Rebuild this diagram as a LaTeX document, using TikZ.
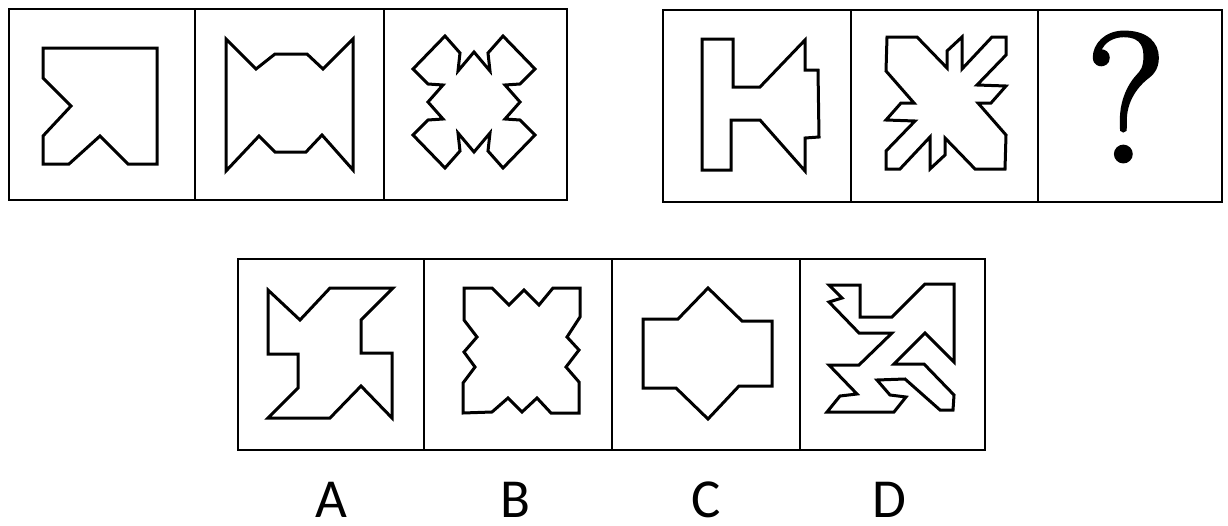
\documentclass[tikz,border=0pt]{standalone}
\usepackage{fontspec}
\newfontfamily\labfont{Carlito}
\newfontfamily\qfont[FakeBold=2]{Latin Modern Roman}

\begin{document}
\begin{tikzpicture}[x=1pt, y=-1pt,
    panel/.style={line width=2.6pt},
    fig/.style={line width=3pt, line join=miter},
    letter/.style={font=\labfont\fontsize{55}{55}\selectfont, anchor=base, inner sep=0pt}]
    \useasboundingbox (0,0) rectangle (1228,525);
    % Remeliai
    \draw[panel] (9,9) rectangle (567,200);
    \foreach \x in {195,384} \draw[panel] (\x,9) -- (\x,200);
    \draw[panel] (663,10) rectangle (1222,202);
    \foreach \x in {851,1038} \draw[panel] (\x,10) -- (\x,202);
    \draw[panel] (238,259) rectangle (985,450);
    \foreach \x in {424,612,800} \draw[panel] (\x,259) -- (\x,450);
    % Pirma eile
    \draw[fig] (43,48) -- (157,48) -- (157,164) -- (128,164) -- (100,136) -- (69,164) -- (43,164) -- (43,136) -- (71,106) -- (43,78) -- cycle;
    \draw[fig] (226,39) -- (256,69) -- (275,54) -- (307,54) -- (323,69) -- (353,39) -- (353,170) -- (322,135) -- (306,152) -- (275,152) -- (259,136) -- (226,171) -- cycle;
    \draw[fig, shift={(474,102)}] (-29,-66) -- (-14,-49) -- (-16,-31) -- (0,-50) -- (16,-31) -- (14,-49) -- (29,-66) -- (61,-33) -- (46,-18) -- (31,-17) -- (46,0) -- (31,17) -- (46,18) -- (61,33) -- (29,66) -- (14,49) -- (16,31) -- (0,50) -- (-16,31) -- (-14,49) -- (-29,66) -- (-61,33) -- (-46,18) -- (-31,17) -- (-46,0) -- (-31,-17) -- (-46,-18) -- (-61,-33) -- cycle;
    % Antra eile
    \draw[fig] (702,39) -- (733,39) -- (733,87) -- (760,87) -- (805,40) -- (805,70) -- (818,70) -- (819,137) -- (805,138) -- (805,171) -- (760,120) -- (731,120) -- (731,170) -- (702,170) -- cycle;
    \draw[fig, shift={(946,103)}] (-59,-66) -- (-29,-66) -- (1,-35) -- (1,-52) -- (16,-66) -- (16,-34) -- (46,-66) -- (60,-66) -- (60,-48) -- (31,-18) -- (60,-17) -- (45,0) -- (32,0) -- (60,32) -- (59,66) -- (29,66) -- (-1,35) -- (-1,52) -- (-16,66) -- (-16,34) -- (-46,66) -- (-60,66) -- (-60,48) -- (-31,18) -- (-60,17) -- (-45,0) -- (-32,0) -- (-60,-32) -- cycle;
    \node[font=\qfont\fontsize{184}{184}\selectfont, inner sep=0pt] (qm) at (1126,97) {?};
    % Atsakymai
    \draw[fig] (268,290) -- (300,320) -- (330,288) -- (393,288) -- (361,320) -- (361,353) -- (392,353) -- (392,418) -- (361,386) -- (330,418) -- (268,418) -- (298,388) -- (298,354) -- (268,354) -- cycle;
    \draw[fig] (464,288) -- (492,288) -- (509,305) -- (524,290) -- (539,305) -- (553,288) -- (580,288) -- (580,317) -- (567,337) -- (579,350) -- (566,367) -- (579,382) -- (579,413) -- (551,413) -- (537,398) -- (522,412) -- (508,398) -- (492,412) -- (463,413) -- (463,383) -- (475,367) -- (464,352) -- (477,337) -- (464,320) -- cycle;
    \draw[fig] (643,319) -- (678,319) -- (708,288) -- (742,321) -- (772,321) -- (772,386) -- (739,386) -- (708,419) -- (676,388) -- (643,388) -- cycle;
    \draw[fig] (829,285) -- (860,285) -- (860,317) -- (892,317) -- (925,284) -- (954,284) -- (954,362) -- (925,333) -- (894,364) -- (924,364) -- (954,395) -- (953,410) -- (940,410) -- (905,379) -- (877,380) -- (890,395) -- (906,397) -- (894,412) -- (827,412) -- (840,396) -- (857,394) -- (829,365) -- (859,365) -- (892,333) -- (859,333) -- (829,302) -- (842,298) -- cycle;
    \foreach \l/\x in {A/331,B/515,C/706,D/889}
        \node[letter] (lab\l) at (\x,517) {\l};
\end{tikzpicture}
\end{document}
